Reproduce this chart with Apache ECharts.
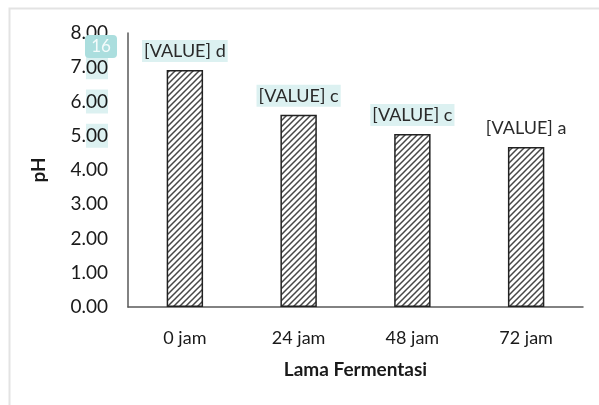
<!DOCTYPE html>
<html>
<head>
<meta charset="utf-8">
<script src="https://cdn.jsdelivr.net/npm/echarts@6/dist/echarts.min.js"></script>
<style>
  html, body { margin: 0; padding: 0; background: #fff; }
  #chart { width: 599px; height: 405px; }
</style>
</head>
<body>
<div id="chart"></div>
<script>
// data
var categories = ['0 jam', '24 jam', '48 jam', '72 jam'];
var phValues = [6.92, 5.61, 5.05, 4.67];
var letters = ['d', 'c', 'c', 'a'];
var highlighted = [true, true, true, false];

var font = 'Lato, "Open Sans", sans-serif';

// hatch pattern ///
function makeHatch() {
    var c = document.createElement('canvas');
    c.width = 6;
    c.height = 6;
    var ctx = c.getContext('2d');
    ctx.fillStyle = '#fff';
    ctx.fillRect(0, 0, 6, 6);
    ctx.strokeStyle = '#474747';
    ctx.lineWidth = 1.5;
    ctx.beginPath();
    ctx.moveTo(-1, 7); ctx.lineTo(7, -1);
    ctx.moveTo(-1, 1); ctx.lineTo(1, -1);
    ctx.moveTo(5, 7); ctx.lineTo(7, 5);
    ctx.stroke();
    return c;
}

var barData = phValues.map(function (v, i) {
    return {
        value: v,
        label: {
            backgroundColor: highlighted[i] ? '#dcf1f1' : 'transparent'
        }
    };
});

var myChart = echarts.init(document.getElementById('chart'));

var option = {
    animation: false,
    backgroundColor: '#fff',
    textStyle: { fontFamily: font },
    grid: { left: 128, right: 16, top: 33, bottom: 98 },
    graphic: [
        {
            type: 'rect',
            shape: { x: 9.5, y: 8.5, width: 620, height: 420 },
            style: { fill: 'none', stroke: '#e3e3e3', lineWidth: 2 },
            silent: true
        },
        {
            type: 'rect',
            shape: { x: 85, y: 35, width: 32, height: 23, r: 4 },
            style: { fill: '#abdede' },
            z: 10
        },
        {
            type: 'text',
            x: 101, y: 47,
            style: {
                text: '16', fill: '#f4fbfb', font: '17px ' + font,
                align: 'center', verticalAlign: 'middle'
            },
            z: 11
        }
    ],
    xAxis: {
        type: 'category',
        data: categories,
        name: 'Lama Fermentasi',
        nameLocation: 'middle',
        nameGap: 53,
        nameTextStyle: { fontSize: 19, fontWeight: 'bold', color: '#1a1a1a' },
        axisLine: { lineStyle: { color: '#595959', width: 1.5 } },
        axisTick: { show: false },
        axisLabel: { fontSize: 18, color: '#1a1a1a', margin: 22 }
    },
    yAxis: {
        type: 'value',
        min: 0,
        max: 8,
        interval: 1,
        name: 'pH',
        nameLocation: 'middle',
        nameGap: 80,
        nameTextStyle: { fontSize: 19, fontWeight: 'bold', color: '#1a1a1a' },
        axisLine: { show: true, lineStyle: { color: '#595959', width: 1.5 } },
        axisTick: { show: false },
        splitLine: { show: false },
        axisLabel: {
            color: '#1a1a1a',
            margin: 20,
            formatter: function (v) {
                var s = v.toFixed(2).split('.');
                var key = (v >= 5 && v <= 7) ? 'hl' : 'n';
                return '{n|' + s[0] + '.}{' + key + '|' + s[1] + '}';
            },
            rich: {
                n: { fontSize: 19, color: '#1a1a1a', fontFamily: font },
                hl: { fontSize: 19, color: '#1a1a1a', fontFamily: font, backgroundColor: '#dcf1f1', padding: [3, 0, 2, 0] }
            }
        }
    },
    series: [
        {
            type: 'bar',
            data: barData,
            barWidth: '32%',
            itemStyle: {
                color: { image: makeHatch(), repeat: 'repeat' },
                borderColor: '#222',
                borderWidth: 1.5
            },
            label: {
                show: true,
                position: 'top',
                distance: 8,
                fontSize: 18,
                color: '#2a2a2a',
                padding: [2, 2, 2, 2],
                formatter: function (p) {
                    return '[VALUE] ' + letters[p.dataIndex];
                }
            }
        }
    ]
};

myChart.setOption(option);

window.onresize = function () {
    myChart.resize();
};
</script>
</body>
</html>
